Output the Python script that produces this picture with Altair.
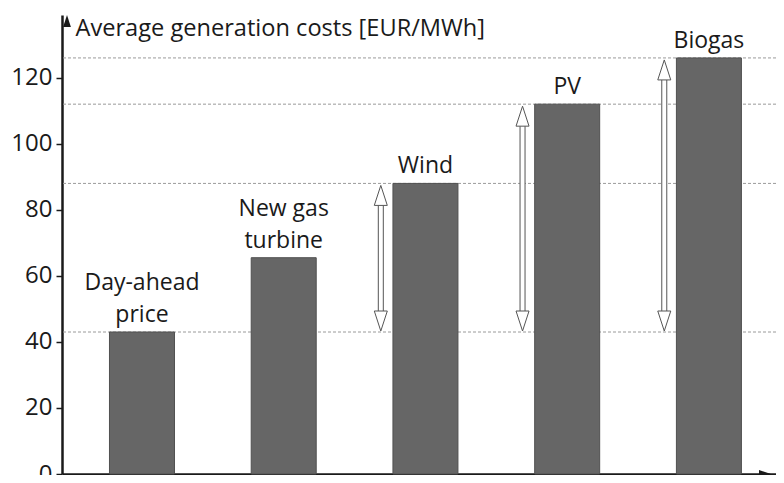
import altair as alt
import pandas as pd

# ---- data ----
categories = ["Day-ahead\nprice", "New gas\nturbine", "Wind", "PV", "Biogas"]
positions = [1, 2, 3, 4, 5]
costs = [43, 65.5, 88, 112, 126]
y_ticks = [0, 20, 40, 60, 80, 100, 120]
arrow_targets = ["Wind", "PV", "Biogas"]      # arrows from day-ahead price up to these
ref_lines = ["Day-ahead\nprice", "Wind", "PV", "Biogas"]

X_DOMAIN = [0.471, 5.438]
Y_DOMAIN = [0, 139]
ARROW_SHIFT = 0.315
FONT = "Open Sans"
DARK = "#1a1a1a"
ARROW_C = "#555555"
FS = 23
LH = 32

lines = [c.split("\n") for c in categories]
bars = pd.DataFrame({
    "pos": positions, "cost": costs,
    "last": [l[-1] for l in lines],
    "first": [l[0] if len(l) > 1 else "" for l in lines],
})
base_cost = costs[0]
arrows = pd.DataFrame({
    "x": [positions[categories.index(c)] - ARROW_SHIFT for c in arrow_targets],
    "top": [costs[categories.index(c)] for c in arrow_targets],
    "base": [base_cost] * len(arrow_targets),
})
refs = pd.DataFrame({"v": [costs[categories.index(c)] for c in ref_lines]})
corner = pd.DataFrame({"x0": [X_DOMAIN[0]], "x1": [X_DOMAIN[1]],
                       "y0": [Y_DOMAIN[0]], "y1": [Y_DOMAIN[1]]})

xs = alt.Scale(domain=X_DOMAIN, nice=False, zero=False)
ys = alt.Scale(domain=Y_DOMAIN, nice=False)

x_axis = alt.Axis(title=None, labels=False, ticks=False, grid=False,
                  domainColor=DARK, domainWidth=2.5)
y_axis = alt.Axis(values=y_ticks, grid=False, domainColor=DARK, domainWidth=2.5,
                  tickColor=DARK, tickWidth=1.5, tickSize=6,
                  labelFont=FONT, labelFontSize=FS + 1, labelColor=DARK, labelPadding=4,
                  title="Average generation costs [EUR/MWh]",
                  titleFont=FONT, titleFontSize=FS + 0.6, titleFontWeight="normal",
                  titleColor=DARK, titleAngle=0, titleAlign="left",
                  titleBaseline="alphabetic", titleX=13, titleY=20)

ref = alt.Chart(refs).mark_rule(color="#9a9a9a", strokeWidth=1, strokeDash=[3, 2]).encode(
    y=alt.Y("v:Q", scale=ys, axis=y_axis)
)

bar = alt.Chart(bars).mark_bar(size=65, color="#666666", stroke="#505050", strokeWidth=1).encode(
    x=alt.X("pos:Q", scale=xs, axis=x_axis),
    y=alt.Y("cost:Q", scale=ys),
)

text_last = alt.Chart(bars).mark_text(font=FONT, fontSize=FS, color=DARK,
                                      baseline="alphabetic", dy=-10).encode(
    x=alt.X("pos:Q", scale=xs), y=alt.Y("cost:Q", scale=ys), text="last:N")
text_first = alt.Chart(bars).mark_text(font=FONT, fontSize=FS, color=DARK,
                                       baseline="alphabetic", dy=-10 - LH).encode(
    x=alt.X("pos:Q", scale=xs), y=alt.Y("cost:Q", scale=ys), text="first:N")

shaft_outer = alt.Chart(arrows).mark_rule(color=ARROW_C, strokeWidth=6,
                                          yOffset=19, y2Offset=-19).encode(
    x=alt.X("x:Q", scale=xs), y=alt.Y("top:Q", scale=ys), y2="base:Q")
shaft_inner = alt.Chart(arrows).mark_rule(color="white", strokeWidth=4,
                                          yOffset=19, y2Offset=-19).encode(
    x=alt.X("x:Q", scale=xs), y=alt.Y("top:Q", scale=ys), y2="base:Q")

head_up = alt.Chart(arrows).mark_point(shape="M0,0 L0.65,2 L-0.65,2 Z", size=400,
                                       filled=True, fill="white", stroke=ARROW_C,
                                       strokeWidth=1, opacity=1, yOffset=2).encode(
    x=alt.X("x:Q", scale=xs), y=alt.Y("top:Q", scale=ys))
head_down = alt.Chart(arrows).mark_point(shape="M0,0 L0.65,-2 L-0.65,-2 Z", size=400,
                                         filled=True, fill="white", stroke=ARROW_C,
                                         strokeWidth=1, opacity=1, yOffset=-1).encode(
    x=alt.X("x:Q", scale=xs), y=alt.Y("base:Q", scale=ys))

y_arrow = alt.Chart(corner).mark_point(shape="M0,0 L1.3,4 L-1.3,4 Z", size=36, filled=True,
                                       color=DARK, opacity=1).encode(
    x=alt.X("x0:Q", scale=xs), y=alt.Y("y1:Q", scale=ys))
x_arrow = alt.Chart(corner).mark_point(shape="M0,0 L-4,-1.3 L-4,1.3 Z", size=36, filled=True,
                                       color=DARK, opacity=1).encode(
    x=alt.X("x1:Q", scale=xs), y=alt.Y("y0:Q", scale=ys))

chart = alt.layer(ref, bar, text_first, text_last, shaft_outer, shaft_inner, head_up,
                  head_down, y_arrow, x_arrow).properties(
    width=714, height=459,
    autosize=alt.AutoSizeParams(type="none"),
    padding={"left": 54, "top": 7, "right": 0, "bottom": 1},
    background="white",
).configure_view(stroke=None)

chart.save("out.html", embed_options={"renderer": "svg", "actions": False})
